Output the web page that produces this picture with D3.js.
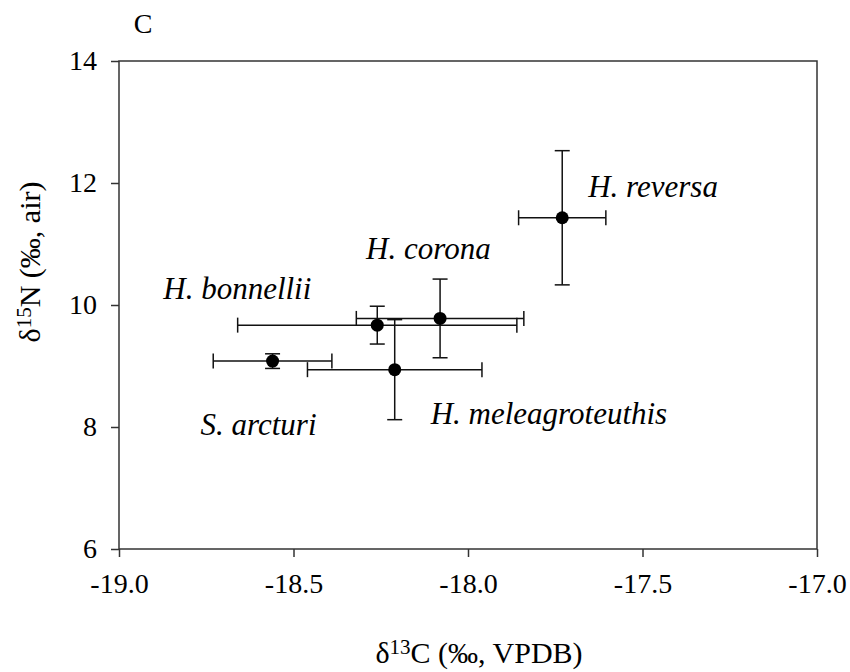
<!DOCTYPE html>
<html>
<head>
<meta charset="utf-8">
<script src="https://cdn.jsdelivr.net/npm/d3@7"></script>
<style>
  html, body { margin: 0; padding: 0; background: #fff; }
</style>
</head>
<body>
<svg id="chart" width="850" height="672"></svg>
<script>
// Stable isotope means (± SD) per species
const species = ["S. arcturi", "H. bonnellii", "H. corona", "H. meleagroteuthis", "H. reversa"];
const d13C    = [-18.56, -18.26, -18.08, -18.21, -17.73];
const d13C_sd = [0.17, 0.40, 0.24, 0.25, 0.125];
const d15N    = [9.08, 9.67, 9.78, 8.94, 11.43];
const d15N_sd = [0.12, 0.31, 0.645, 0.82, 1.10];

const xTicks = [-19.0, -18.5, -18.0, -17.5, -17.0];
const yTicks = [6, 8, 10, 12, 14];

// species label placement, pixel offsets from each point
const labelOffsets = [[-72, 74], [-214, -26], [-74, -59], [36, 54], [26, -21]];

const FONT = "Liberation Serif, LiberationSerif, Tinos, Nimbus Roman, FreeSerif, Noto Serif, DejaVu Serif, Times New Roman, Times, serif";

const svg = d3.select("#chart");
svg.style("font-family", FONT);
const m = { left: 119, right: 817, top: 61, bottom: 549 };

const x = d3.scaleLinear().domain([-19, -17]).range([m.left, m.right]);
const y = d3.scaleLinear().domain([6, 14]).range([m.bottom, m.top]);

const axisColor = "#333";

// frame
svg.append("rect")
  .attr("x", m.left).attr("y", m.top)
  .attr("width", m.right - m.left).attr("height", m.bottom - m.top)
  .attr("fill", "none").attr("stroke", axisColor).attr("stroke-width", 1.5);

// axes
const xAxis = svg.append("g")
  .attr("transform", `translate(0,${m.bottom})`)
  .call(d3.axisBottom(x).tickValues(xTicks).tickFormat(d3.format(".1f")).tickSize(8).tickPadding(16));
const yAxis = svg.append("g")
  .attr("transform", `translate(${m.left},0)`)
  .call(d3.axisLeft(y).tickValues(yTicks).tickFormat(d3.format("d")).tickSize(8).tickPadding(14));

[xAxis, yAxis].forEach(g => {
  g.attr("font-family", null).attr("font-size", null);
  g.select(".domain").remove();
  g.selectAll(".tick line").attr("stroke", axisColor).attr("stroke-width", 1.5);
  g.selectAll(".tick text").attr("fill", "#000").style("font-family", FONT).style("font-size", "28px");
});
xAxis.selectAll(".tick text").text(d => d3.format(".1f")(d).replace("−", "-"));

// panel letter
svg.append("text").attr("x", 143).attr("y", 33).attr("text-anchor", "middle")
  .style("font-family", FONT).style("font-size", "28px").text("C");

// axis titles
const xt = svg.append("text").attr("x", 479).attr("y", 663).attr("text-anchor", "middle")
  .style("font-family", FONT).style("font-size", "30px");
xt.append("tspan").text("δ");
xt.append("tspan").attr("dy", -9).style("font-size", "21px").text("13");
xt.append("tspan").attr("dy", 9).text("C (‰, VPDB)");

const yt = svg.append("text")
  .attr("transform", "translate(40,262) rotate(-90)")
  .attr("text-anchor", "middle").style("font-family", FONT).style("font-size", "30px");
yt.append("tspan").text("δ");
yt.append("tspan").attr("dy", -9).style("font-size", "21px").text("15");
yt.append("tspan").attr("dy", 9).text("N (‰, air)");

// error bars and points
const data = species.map((s, i) => ({
  name: s, cx: d13C[i], sx: d13C_sd[i], cy: d15N[i], sy: d15N_sd[i], off: labelOffsets[i]
}));

const cap = 7.5;
const g = svg.append("g").attr("stroke", "#111").attr("stroke-width", 1.5).attr("fill", "none");
data.forEach(d => {
  const px = x(d.cx), py = y(d.cy);
  const x0 = x(d.cx - d.sx), x1 = x(d.cx + d.sx);
  const y0 = y(d.cy - d.sy), y1 = y(d.cy + d.sy);
  g.append("line").attr("x1", x0).attr("x2", x1).attr("y1", py).attr("y2", py);
  g.append("line").attr("x1", x0).attr("x2", x0).attr("y1", py - cap).attr("y2", py + cap);
  g.append("line").attr("x1", x1).attr("x2", x1).attr("y1", py - cap).attr("y2", py + cap);
  g.append("line").attr("x1", px).attr("x2", px).attr("y1", y0).attr("y2", y1);
  g.append("line").attr("x1", px - cap).attr("x2", px + cap).attr("y1", y0).attr("y2", y0);
  g.append("line").attr("x1", px - cap).attr("x2", px + cap).attr("y1", y1).attr("y2", y1);
});

svg.append("g").selectAll("circle").data(data).join("circle")
  .attr("cx", d => x(d.cx)).attr("cy", d => y(d.cy)).attr("r", 6.5).attr("fill", "#000");

svg.append("g").selectAll("text").data(data).join("text")
  .attr("x", d => x(d.cx) + d.off[0]).attr("y", d => y(d.cy) + d.off[1])
  .style("font-family", FONT).style("font-size", "31px").style("font-style", "italic")
  .text(d => d.name);
</script>
</body>
</html>
